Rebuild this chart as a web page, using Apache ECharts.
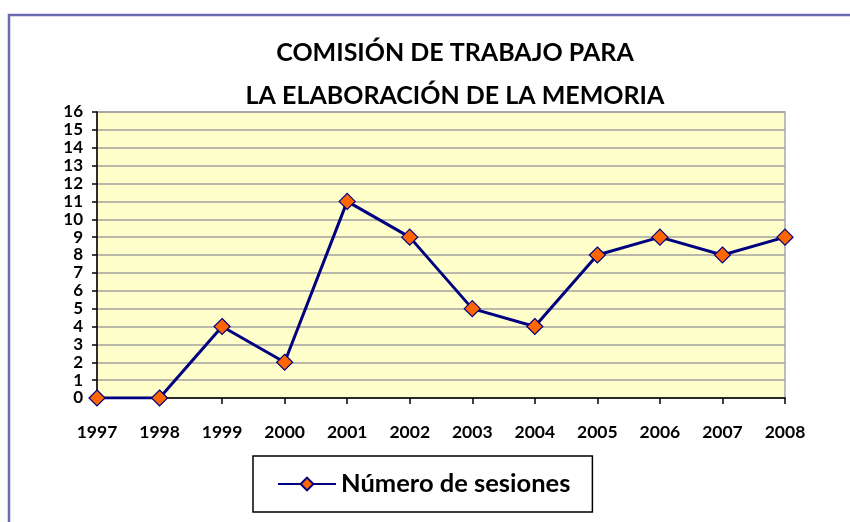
<!DOCTYPE html>
<html>
<head>
<meta charset="utf-8">
<script src="https://cdn.jsdelivr.net/npm/echarts@6/dist/echarts.min.js"></script>
<style>
  html, body { margin: 0; padding: 0; background: #fff; }
  #chart { width: 850px; height: 522px; }
</style>
</head>
<body>
<div id="chart"></div>
<script>
var years = ['1997', '1998', '1999', '2000', '2001', '2002', '2003', '2004', '2005', '2006', '2007', '2008'];
var sesiones = [0, 0, 4, 2, 11, 9, 5, 4, 8, 9, 8, 9];
var seriesName = 'Número de sesiones';
var titleLines = ['COMISIÓN DE TRABAJO PARA', 'LA ELABORACIÓN DE LA MEMORIA'];

var font = 'Lato, "Open Sans", sans-serif';
var chart = echarts.init(document.getElementById('chart'));

chart.setOption({
  animation: false,
  title: {
    text: titleLines.join('\n'),
    left: 450,
    textAlign: 'center',
    top: 26,
    textStyle: {
      fontFamily: font,
      fontWeight: 'bold',
      fontSize: 25,
      lineHeight: 43,
      color: '#000'
    }
  },
  graphic: [{
    type: 'rect',
    shape: { x: 9, y: 15, width: 900, height: 600 },
    style: { fill: 'none', stroke: '#6a6aae', lineWidth: 2.5 },
    silent: true,
    z: -1
  }],
  legend: {
    data: [seriesName],
    left: 253,
    top: 456,
    padding: [15, 22, 15, 24],
    itemWidth: 58,
    itemHeight: 16,
    itemGap: 8,
    borderColor: '#000',
    borderWidth: 1.5,
    textStyle: {
      fontFamily: font,
      fontWeight: 'bold',
      fontSize: 25.5,
      color: '#000'
    }
  },
  grid: {
    left: 97,
    right: 65,
    top: 112,
    bottom: 124,
    show: true,
    backgroundColor: '#FFFFCC',
    borderColor: '#A8A8A8',
    borderWidth: 1.5
  },
  xAxis: {
    type: 'category',
    data: years,
    boundaryGap: false,
    axisLine: { lineStyle: { color: '#000', width: 1.5 } },
    axisTick: { length: 6, lineStyle: { color: '#000', width: 1.5 } },
    axisLabel: {
      margin: 25,
      fontFamily: font,
      fontWeight: 'bold',
      fontSize: 17.5,
      color: '#000'
    },
    splitLine: { show: false }
  },
  yAxis: {
    type: 'value',
    min: 0,
    max: 16,
    interval: 1,
    axisLine: { show: true, lineStyle: { color: '#000', width: 1.5 } },
    axisTick: { show: true, length: 5, lineStyle: { color: '#000', width: 1.5 } },
    axisLabel: {
      margin: 14,
      fontFamily: font,
      fontWeight: 'bold',
      fontSize: 17,
      color: '#000'
    },
    splitLine: { lineStyle: { color: '#A0A0A0', width: 1.5 } }
  },
  series: [{
    name: seriesName,
    type: 'line',
    data: sesiones,
    symbol: 'diamond',
    symbolSize: 16,
    lineStyle: { color: '#000080', width: 3 },
    itemStyle: { color: '#FF6600', borderColor: '#000080', borderWidth: 1.2 },
    z: 5
  }]
});
</script>
</body>
</html>
